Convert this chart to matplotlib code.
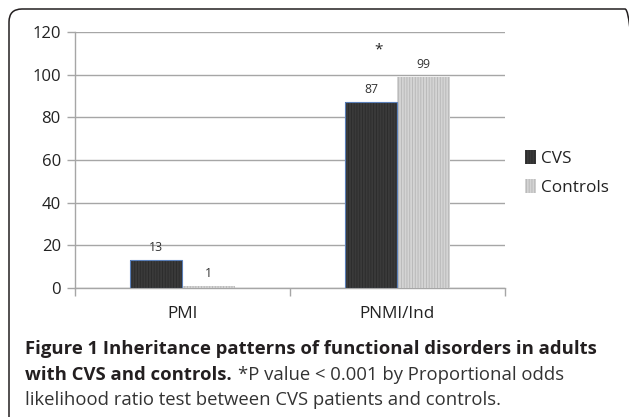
import matplotlib
matplotlib.use("Agg")
import matplotlib.pyplot as plt
from matplotlib.patches import FancyBboxPatch
import numpy as np

categories = ["PMI", "PNMI/Ind"]
cvs = [13, 87]
controls = [1, 99]
series_names = ["CVS", "Controls"]
yticks = [0, 20, 40, 60, 80, 100, 120]

plt.rcParams['font.family'] = ['Open Sans', 'DejaVu Sans']
plt.rcParams['hatch.linewidth'] = 0.6

fig = plt.figure(figsize=(6.29, 4.17), dpi=100)
ax = fig.add_axes([0.1188, 0.3094, 0.6841, 0.6139])

x = np.arange(len(categories))
w = 0.245
b1 = ax.bar(x - w/2, cvs, w, color='#3a3a3a', hatch='||||||', edgecolor='#2b2b2b', linewidth=0, zorder=3, label=series_names[0])
ax.bar(x - w/2, cvs, w, fill=False, edgecolor='#5a7fb8', linewidth=0.8, zorder=4)
b2 = ax.bar(x + w/2, controls, w, color='#d4d4d4', hatch='||||||', edgecolor='#b5b5b5', linewidth=0, zorder=3, label=series_names[1])

for xs, vals in ((x - w/2, cvs), (x + w/2, controls)):
    for xi, v in zip(xs, vals):
        ax.annotate(str(v), (xi, v), xytext=(0, 9), textcoords='offset points',
                    ha='center', va='center', fontsize=8.8, color='#333333')

ax.text(0.91, 111.5, '*', ha='center', va='center', fontsize=11, color='#222222')

ax.set_xlim(-0.5, 1.5)
ax.set_ylim(0, 120)
ax.set_yticks(yticks)
ax.yaxis.grid(True, color='#a6a6a6', linewidth=1)
ax.set_axisbelow(True)
ax.set_xticks([-0.5, 0.5, 1.5])
ax.set_xticklabels([])
ax.set_xticks(x, minor=True)
ax.set_xticklabels(categories, minor=True)
ax.tick_params(axis='x', which='minor', length=0, pad=13, labelsize=12.3, labelcolor='#222222')
ax.tick_params(axis='x', which='major', length=6, color='#a6a6a6', width=1)
ax.tick_params(axis='y', length=6, color='#a6a6a6', width=1, labelsize=12, labelcolor='#222222', pad=4)
for s in ['top', 'right']:
    ax.spines[s].set_visible(False)
for s in ['left', 'bottom']:
    ax.spines[s].set_color('#a6a6a6')
    ax.spines[s].set_linewidth(1)

leg = fig.legend(handles=[b1, b2], labels=series_names, loc='center left',
                 bbox_to_anchor=(0.815, 0.585), frameon=False, fontsize=12.3,
                 handlelength=0.65, handleheight=0.85, handletextpad=0.3, labelspacing=0.75,
                 borderpad=0.2)
for t in leg.get_texts():
    t.set_color('#222222')

frame = FancyBboxPatch((0.09, -0.3), 6.29, 4.17 - 0.09 + 0.3,
                       boxstyle="round,pad=0,rounding_size=0.13",
                       transform=fig.dpi_scale_trans, fill=False,
                       edgecolor='#231f20', linewidth=1.1, clip_on=False)
fig.patches.append(frame)

fs = 13.3
fig.text(25/629, 1 - 349/417, "Figure 1 Inheritance patterns of functional disorders in adults",
         fontsize=fs, fontweight='bold', color='#231f20', va='center', ha='left')
t2 = fig.text(25/629, 1 - 375/417, "with CVS and controls.", fontsize=fs, fontweight='bold',
              color='#231f20', va='center', ha='left')
fig.canvas.draw()
bb = t2.get_window_extent()
fig.text((bb.x1 + 6)/629, 1 - 375/417, "*P value < 0.001 by Proportional odds",
         fontsize=fs, color='#333333', va='center', ha='left')
fig.text(25/629, 1 - 400/417, "likelihood ratio test between CVS patients and controls.",
         fontsize=fs, color='#333333', va='center', ha='left')

fig.savefig("out.png", dpi=100)
